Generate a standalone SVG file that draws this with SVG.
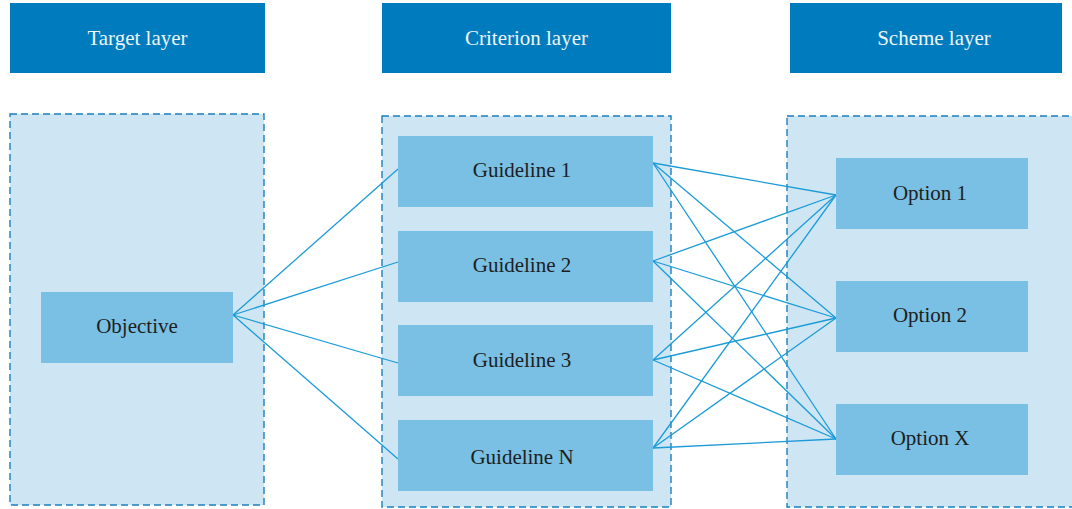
<svg xmlns="http://www.w3.org/2000/svg" width="1072" height="509" viewBox="0 0 1072 509">
<style>
.hdr{fill:#007bbd}
.hdrt{fill:#eef5fb;font-family:"Liberation Serif",serif;font-size:21px;text-anchor:middle;dominant-baseline:central}
.cont{fill:#cee6f3;stroke:#1a80bd;stroke-width:1.4;stroke-dasharray:7 4}
.node{fill:#79c0e4}
.nt{fill:#1e1e1e;font-family:"Liberation Serif",serif;font-size:21px;text-anchor:middle;dominant-baseline:central}
.ln{stroke:#1c9bd7;stroke-width:1.3;fill:none}
</style>
<rect x="0" y="0" width="1072" height="509" fill="#ffffff"/>
<g id="header-target"><rect class="hdr" x="10" y="3" width="255" height="70"/><text class="hdrt" x="137.5" y="38">Target layer</text></g>
<g id="header-criterion"><rect class="hdr" x="382" y="3" width="289" height="70"/><text class="hdrt" x="526.5" y="38">Criterion layer</text></g>
<g id="header-scheme"><rect class="hdr" x="790" y="3" width="272" height="70"/><text class="hdrt" x="934" y="38">Scheme layer</text></g>
<g id="container-target"><rect class="cont" x="10" y="114" width="254" height="391"/></g>
<g id="container-criterion"><rect class="cont" x="382" y="116" width="289" height="391"/></g>
<g id="container-scheme"><rect class="cont" x="787" y="116" width="290" height="391"/></g>
<g id="connectors">
<line class="ln" x1="233" y1="315" x2="398" y2="169"/>
<line class="ln" x1="233" y1="315" x2="398" y2="262"/>
<line class="ln" x1="233" y1="315" x2="398" y2="363"/>
<line class="ln" x1="233" y1="315" x2="398" y2="459"/>
<line class="ln" x1="653" y1="163" x2="836" y2="195"/>
<line class="ln" x1="653" y1="163" x2="836" y2="318"/>
<line class="ln" x1="653" y1="163" x2="836" y2="439"/>
<line class="ln" x1="653" y1="261" x2="836" y2="195"/>
<line class="ln" x1="653" y1="261" x2="836" y2="318"/>
<line class="ln" x1="653" y1="261" x2="836" y2="439"/>
<line class="ln" x1="653" y1="360" x2="836" y2="195"/>
<line class="ln" x1="653" y1="360" x2="836" y2="318"/>
<line class="ln" x1="653" y1="360" x2="836" y2="439"/>
<line class="ln" x1="653" y1="448" x2="836" y2="195"/>
<line class="ln" x1="653" y1="448" x2="836" y2="318"/>
<line class="ln" x1="653" y1="448" x2="836" y2="439"/>
</g>
<g id="objective"><rect class="node" x="41" y="292" width="192" height="71"/><text class="nt" x="137" y="326">Objective</text></g>
<g id="guideline-1"><rect class="node" x="398" y="136" width="255" height="71"/><text class="nt" x="522" y="170">Guideline 1</text></g>
<g id="guideline-2"><rect class="node" x="398" y="231" width="255" height="71"/><text class="nt" x="522" y="265">Guideline 2</text></g>
<g id="guideline-3"><rect class="node" x="398" y="325" width="255" height="71"/><text class="nt" x="522" y="360">Guideline 3</text></g>
<g id="guideline-n"><rect class="node" x="398" y="420" width="255" height="71"/><text class="nt" x="522" y="457">Guideline N</text></g>
<g id="option-1"><rect class="node" x="836" y="158" width="192" height="71"/><text class="nt" x="930" y="193">Option 1</text></g>
<g id="option-2"><rect class="node" x="836" y="281" width="192" height="71"/><text class="nt" x="930" y="315">Option 2</text></g>
<g id="option-x"><rect class="node" x="836" y="404" width="192" height="71"/><text class="nt" x="930" y="438">Option X</text></g>
</svg>
